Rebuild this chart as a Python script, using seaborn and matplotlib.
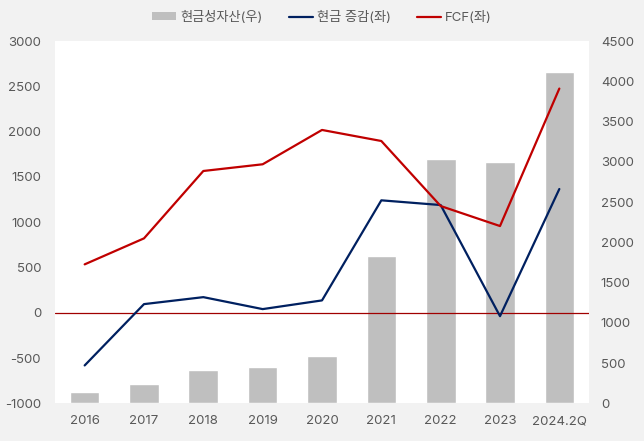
import matplotlib
matplotlib.use("Agg")
import matplotlib.pyplot as plt
import seaborn as sns
import pandas as pd
from matplotlib.patches import Patch
from matplotlib.lines import Line2D

categories = ["2016", "2017", "2018", "2019", "2020", "2021", "2022", "2023", "2024.2Q"]
cash_assets = [144, 244, 415, 452, 589, 1834, 3030, 2992, 4113]
cash_change = [-582, 95, 172, 40, 136, 1241, 1189, -38, 1366]
fcf = [534, 821, 1565, 1639, 2018, 1896, 1178, 957, 2475]

left_ticks = list(range(-1000, 3001, 500))
right_ticks = list(range(0, 4501, 500))

sns.set_theme(style="white")
plt.rcParams['font.family'] = ['Inter', 'Noto Sans CJK KR', 'DejaVu Sans']
plt.rcParams['axes.unicode_minus'] = False

df = pd.DataFrame({"cat": categories, "assets": cash_assets,
                   "change": cash_change, "fcf": fcf})

fig = plt.figure(figsize=(6.44, 4.41), dpi=100, facecolor="#f2f2f2")
ax1 = fig.add_axes([0.0854, 0.0855, 0.8292, 0.8215])
ax2 = ax1.twinx()

# bars on right axis, drawn below lines
ax1.set_zorder(ax2.get_zorder() + 1)
ax1.patch.set_visible(False)
ax2.patch.set_visible(True)
ax2.patch.set_facecolor("white")

sns.barplot(data=df, x="cat", y="assets", ax=ax2, color="#bfbfbf",
            width=0.5, saturation=1)
sns.lineplot(data=df, x="cat", y="change", ax=ax1, color="#002060",
             linewidth=1.6, sort=False)
sns.lineplot(data=df, x="cat", y="fcf", ax=ax1, color="#c00000",
             linewidth=1.6, sort=False)
ax1.axhline(0, color="#a00000", linewidth=0.9, zorder=1)

ax1.set_xlim(-0.5, len(categories) - 0.5)
ax1.set_ylim(-1000, 3000)
ax2.set_ylim(0, 4500)
ax1.set_yticks(left_ticks)
ax2.set_yticks(right_ticks)
ax1.set_yticklabels([str(t) for t in left_ticks])
ax2.set_yticklabels([str(t) for t in right_ticks])

for ax in (ax1, ax2):
    ax.set_xlabel("")
    ax.set_ylabel("")
    for s in ax.spines.values():
        s.set_visible(False)
    ax.tick_params(axis="both", length=0, labelsize=9.5, colors="#595959")
ax1.tick_params(axis="y", pad=10)
ax2.tick_params(axis="y", pad=8.5)
ax1.tick_params(axis="x", pad=8.5)
ax2.tick_params(axis="x", pad=8.5)

handles = [Patch(facecolor="#bfbfbf", edgecolor="none"),
           Line2D([0], [0], color="#002060", linewidth=1.6),
           Line2D([0], [0], color="#c00000", linewidth=1.6)]
labels = ["현금성자산(우)", "현금 증감(좌)", "FCF(좌)"]
leg = fig.legend(handles, labels, loc="center", bbox_to_anchor=(0.5, 0.961),
                 ncol=3, frameon=False, fontsize=9.5, handlelength=1.8,
                 handleheight=0.45, columnspacing=2.0, handletextpad=0.3)
for t in leg.get_texts():
    t.set_color("#595959")

fig.savefig("out.png", dpi=100, facecolor=fig.get_facecolor())
